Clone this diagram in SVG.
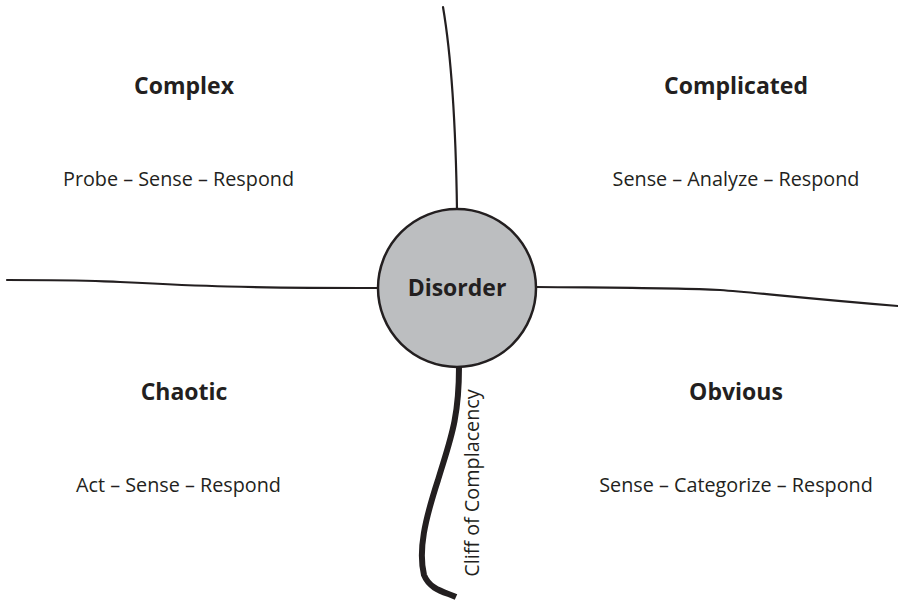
<svg xmlns="http://www.w3.org/2000/svg" width="898" height="600" viewBox="0 0 898 600">
<style>
.t{font-family:"Open Sans","Noto Sans",sans-serif;fill:#231f20;text-anchor:middle}
.h{font-size:23px;font-weight:bold}
.s{font-size:19.8px}
.ln{fill:none;stroke:#231f20;stroke-width:2.2;stroke-linecap:round}
</style>
<rect width="898" height="600" fill="#fff"/>
<g id="connectors">
<path class="ln" d="M443,7 C452,60 456,140 457,210"/>
<path class="ln" d="M7,280 C80,280 70,280 120,282 C200,286 240,288 378,288"/>
<path class="ln" d="M536,287 C640,288 680,288 720,290 C760,293 800,298 898,306"/>
<path d="M459,367 C459,420 450,440 438,480 C425,520 418,550 424,575 C430,590 445,592 456,597" fill="none" stroke="#231f20" stroke-width="6"/>
</g>
<g id="disorder">
<circle cx="457" cy="288" r="79" fill="#bcbec0" stroke="#231f20" stroke-width="2.5"/>
<text class="t h" x="457" y="296">Disorder</text>
</g>
<g id="complex">
<text class="t h" x="184" y="94">Complex</text>
<text class="t s" x="178.5" y="186">Probe – Sense – Respond</text>
</g>
<g id="complicated">
<text class="t h" x="736" y="94">Complicated</text>
<text class="t s" x="736" y="186">Sense – Analyze – Respond</text>
</g>
<g id="chaotic">
<text class="t h" x="184" y="400">Chaotic</text>
<text class="t s" x="178.5" y="492">Act – Sense – Respond</text>
</g>
<g id="obvious">
<text class="t h" x="736" y="400">Obvious</text>
<text class="t s" x="736" y="492">Sense – Categorize – Respond</text>
</g>
<g id="cliff">
<text class="t s" transform="translate(479,483) rotate(-90)">Cliff of Complacency</text>
</g>
</svg>
